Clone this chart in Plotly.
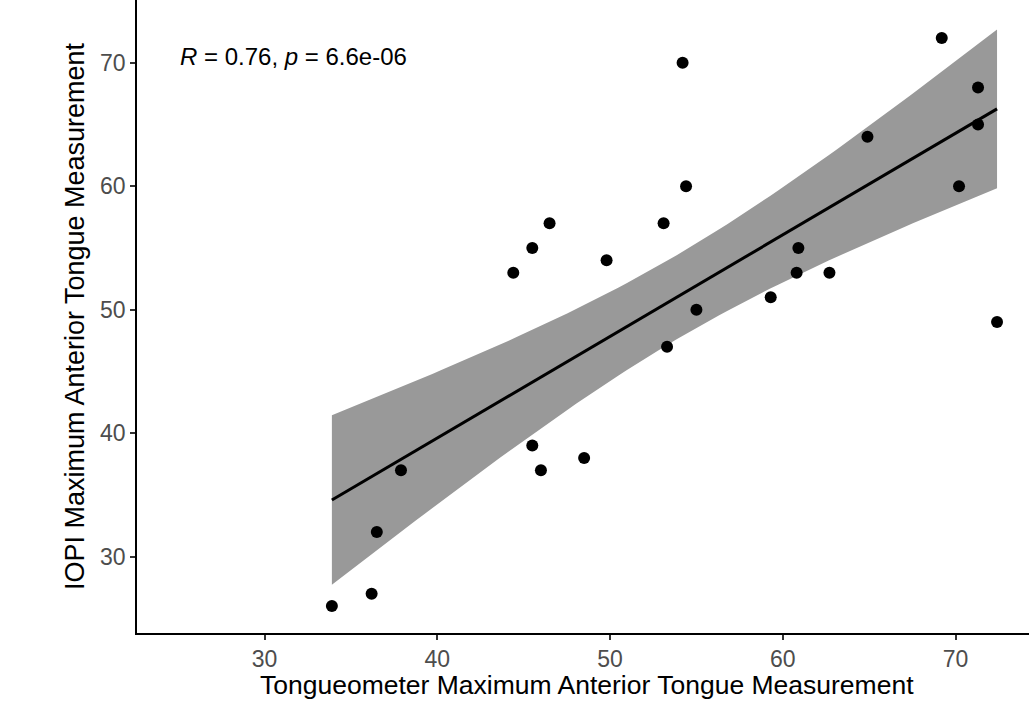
import numpy as np
import plotly.graph_objects as go

# Paired measurements (kPa) from the two devices
tongueometer = [33.9, 36.2, 36.5, 37.9, 44.4, 45.5, 45.5, 46.0, 46.5, 48.5,
                49.8, 53.1, 53.3, 54.2, 54.4, 55.0, 59.3, 60.8, 60.9, 62.7,
                64.9, 69.2, 70.2, 71.3, 71.3, 72.4]
iopi = [26, 27, 32, 37, 53, 55, 39, 37, 57, 38,
        54, 57, 47, 70, 60, 50, 51, 53, 55, 53,
        64, 72, 60, 68, 65, 49]

x_ticks = [30, 40, 50, 60, 70]
y_ticks = [30, 40, 50, 60, 70]
cor_label = "<i>R</i> = 0.76, <i>p</i> = 6.6e-06"

x_title = "Tongueometer Maximum Anterior Tongue Measurement"
y_title = "IOPI Maximum Anterior Tongue Measurement"

FONT = "Liberation Sans, Arial, sans-serif"

# Ordinary least squares fit with 95% confidence band
x = np.array(tongueometer, dtype=float)
y = np.array(iopi, dtype=float)
n = len(x)
slope, intercept = np.polyfit(x, y, 1)
resid = y - (intercept + slope * x)
s = np.sqrt(np.sum(resid ** 2) / (n - 2))
sxx = np.sum((x - x.mean()) ** 2)
t_crit = 2.0639  # t(0.975, df = 24)

grid = np.linspace(x.min(), x.max(), 80)
fit = intercept + slope * grid
se = s * np.sqrt(1.0 / n + (grid - x.mean()) ** 2 / sxx)
upper = fit + t_crit * se
lower = fit - t_crit * se

fig = go.Figure()

fig.add_trace(go.Scatter(
    x=np.concatenate([grid, grid[::-1]]),
    y=np.concatenate([upper, lower[::-1]]),
    fill="toself", fillcolor="#999999", mode="lines",
    line=dict(width=0), hoverinfo="skip", showlegend=False,
))
fig.add_trace(go.Scatter(
    x=grid, y=fit, mode="lines",
    line=dict(color="black", width=3), showlegend=False,
))
fig.add_trace(go.Scatter(
    x=tongueometer, y=iopi, mode="markers",
    marker=dict(color="black", size=12), showlegend=False,
))

# correlation label in the upper-left corner of the panel
fig.add_annotation(
    x=25, y=70, xref="x", yref="y", text=cor_label, showarrow=False,
    xanchor="left", yanchor="middle", yshift=6,
    font=dict(family=FONT, size=24, color="black"),
)

# x-axis title placed below the tick labels
fig.add_annotation(
    x=0.505, y=0, xref="paper", yref="paper", text=x_title, showarrow=False,
    xanchor="center", yanchor="middle", yshift=-52,
    font=dict(family=FONT, size=26.5, color="black"),
)

axis_common = dict(
    showgrid=False, zeroline=False, showline=True, linecolor="black",
    linewidth=1.5, ticks="outside", ticklen=5, tickwidth=1.5, tickcolor="#333333",
    tickfont=dict(family=FONT, size=23, color="#4d4d4d"),
)

fig.update_xaxes(
    range=[22.62, 74.25], tickvals=x_ticks, ticktext=[str(v) for v in x_ticks],
    **axis_common,
)
fig.update_yaxes(
    range=[23.82, 75.08], tickvals=y_ticks, ticktext=[str(v) for v in y_ticks],
    title=dict(text=y_title, standoff=8,
               font=dict(family=FONT, size=27, color="black")),
    **axis_common,
)

fig.update_layout(
    width=1029, height=702,
    margin=dict(l=137, r=0, t=0, b=69),
    paper_bgcolor="white", plot_bgcolor="white",
)

fig.write_html("out.html")
